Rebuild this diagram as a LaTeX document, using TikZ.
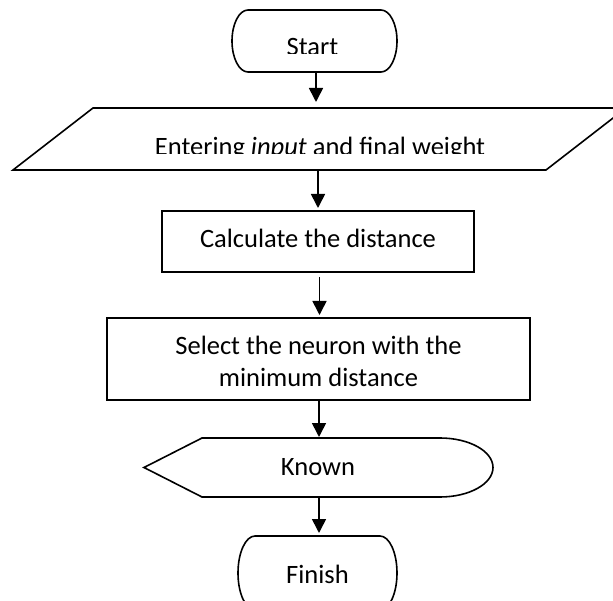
\documentclass[tikz,border=0pt]{standalone}
\usepackage{fontspec}
\setmainfont{Carlito}
\usetikzlibrary{arrows.meta}
\begin{document}
\begin{tikzpicture}[x=1pt,y=-1pt,
  shapeline/.style={line width=1.6pt,line join=miter},
  boxnode/.style={draw,line width=1.6pt,inner sep=0pt,outer sep=0pt},
  label/.style={anchor=base,inner sep=0pt,font=\fontsize{26.5}{32}\selectfont},
  flow/.style={line width=1.6pt,-{Triangle[length=14pt,width=14pt]}}]
\useasboundingbox (0,0) rectangle (613,601);
% Start terminal
\draw[shapeline] (248,10) -- (381,10) arc[start angle=-90,end angle=90,x radius=16,y radius=31]
  -- (248,72) arc[start angle=90,end angle=270,x radius=16,y radius=31] -- cycle;
\coordinate (startS) at (316,72);
\begin{scope}
\clip (200,0) rectangle (430,53.5);
\node[label] (starttxt) at (312.5,56) {Start};
\end{scope}
% Input parallelogram
\draw[shapeline] (93,108) -- (626,108) -- (546,170) -- (13,170) -- cycle;
\coordinate (inN) at (316,108);
\coordinate (inS) at (318,170);
\begin{scope}
\clip (20,110) rectangle (600,153.5);
\node[label] (intxt) at (320,156) {Entering \textit{input} and final weight};
\end{scope}
% Calculate box
\node[boxnode,minimum width=312pt,minimum height=61pt] (calc) at (318,241.5) {};
\node[label] (calctxt) at (318,248) {Calculate the distance};
% Select box
\node[boxnode,minimum width=423pt,minimum height=82pt] (sel) at (318.5,359) {};
\node[label] (seltxt1) at (318.5,355) {Select the neuron with the};
\node[label] (seltxt2) at (318.5,387) {minimum distance};
% Known display
\draw[shapeline] (202,438) -- (440,438) arc[start angle=-90,end angle=90,x radius=53,y radius=29.5]
  -- (202,497) -- (144,467.5) -- cycle;
\coordinate (knN) at (319,438);
\coordinate (knS) at (319,497);
\node[label] (kntxt) at (318,475) {Known};
% Finish terminal
\draw[shapeline] (255,536) -- (380,536) arc[start angle=-90,end angle=90,x radius=17,y radius=37]
  -- (255,610) arc[start angle=90,end angle=270,x radius=17,y radius=37] -- cycle;
\coordinate (finN) at (319,536);
\node[label] (fintxt) at (317.5,583) {Finish};
% connectors
\draw[flow,shorten >=6pt] (startS) -- (inN);
\draw[flow,shorten >=3pt] (inS) -- (calc.north -| inS);
\draw[flow,shorten <=5pt,shorten >=3pt] ([xshift=1.5pt]calc.south) -- ([xshift=1pt]sel.north);
\draw[flow,shorten >=1pt] ([xshift=0.5pt]sel.south) -- (knN);
\draw[flow,shorten >=3pt] (knS) -- (finN);
\end{tikzpicture}
\end{document}
